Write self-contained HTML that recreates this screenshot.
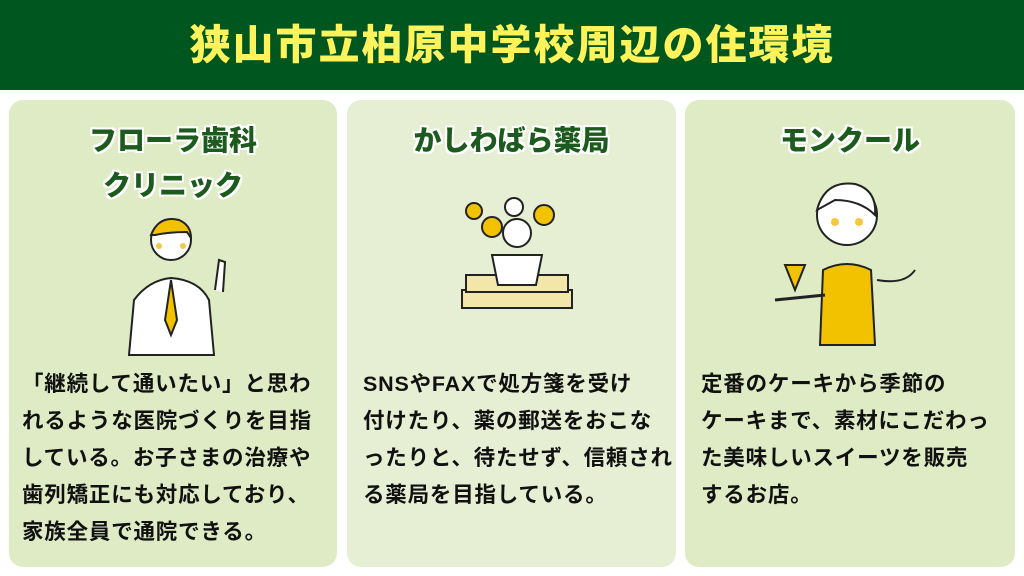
<!DOCTYPE html>
<html><head><meta charset="utf-8"><style>
body{margin:0;width:1024px;height:576px;background:#fff;position:relative;overflow:hidden;font-family:"Liberation Sans","Noto Sans CJK JP",sans-serif}
.hd{position:absolute;left:0;top:0;width:1024px;height:90px;background:#00561f;color:#fff35c;font-weight:900;font-size:41px;text-align:center;line-height:90px;letter-spacing:2px}
.p{position:absolute;top:100px;height:467px;border-radius:14px;background:#dfebc5}
.t{position:absolute;left:0;right:0;text-align:center;color:#1d5a1d;font-weight:900;font-size:28px;line-height:45px;text-shadow:2px 0 #fff,-2px 0 #fff,0 2px #fff,0 -2px #fff,2px 2px #fff,-2px -2px #fff,2px -2px #fff,-2px 2px #fff}
.b{position:absolute;left:13px;right:0;top:266px;font-size:21.5px;line-height:37px;color:#111;font-weight:700;letter-spacing:0.8px;white-space:nowrap}
</style></head><body>
<div class="hd">狭山市立柏原中学校周辺の住環境</div>
<div class="p" style="left:9px;width:328px">
<div class="t" style="top:18px">フローラ歯科<br>クリニック</div>
<svg style="position:absolute;left:110px;top:110px" width="130" height="150"><circle cx="52" cy="30" r="20" fill="#fff" stroke="#222" stroke-width="2"/><path d="M32 25 Q40 5 60 10 Q72 15 72 28 L68 22 Q50 22 36 25Z" fill="#f2c200" stroke="#222" stroke-width="2"/><path d="M10 145 L15 90 Q30 70 52 68 Q80 70 90 90 L95 145Z" fill="#fff" stroke="#222" stroke-width="2"/><path d="M52 70 L46 110 L52 125 L58 110Z" fill="#f2c200" stroke="#222" stroke-width="2"/><path d="M96 80 L100 50 L106 52 L104 82" fill="#fff" stroke="#222" stroke-width="2"/><circle cx="40" cy="36" r="3" fill="#f5c842"/><circle cx="64" cy="36" r="3" fill="#f5c842"/></svg>
<div class="b">「継続して通いたい」と思わ<br>れるような医院づくりを目指<br>している。お子さまの治療や<br>歯列矯正にも対応しており、<br>家族全員で通院できる。</div>
</div>
<div class="p" style="left:347px;width:329px;background:#e6efd3">
<div class="t" style="top:18px">かしわばら薬局</div>
<svg style="position:absolute;left:105px;top:85px" width="130" height="150"><rect x="10" y="105" width="110" height="18" fill="#f2e6a8" stroke="#222" stroke-width="2"/><rect x="14" y="90" width="102" height="17" fill="#f2e6a8" stroke="#222" stroke-width="2"/><path d="M40 70 L90 70 L84 100 L46 100Z" fill="#fff" stroke="#222" stroke-width="2"/><circle cx="65" cy="48" r="14" fill="#fff" stroke="#222" stroke-width="2"/><circle cx="40" cy="42" r="10" fill="#f2c200" stroke="#222" stroke-width="2"/><circle cx="92" cy="30" r="10" fill="#f2c200" stroke="#222" stroke-width="2"/><circle cx="22" cy="26" r="8" fill="#f2c200" stroke="#222" stroke-width="2"/><circle cx="62" cy="22" r="9" fill="#fff" stroke="#222" stroke-width="2"/></svg>
<div class="b" style="left:16px">SNSやFAXで処方箋を受け<br>付けたり、薬の郵送をおこな<br>ったりと、待たせず、信頼され<br>る薬局を目指している。</div>
</div>
<div class="p" style="left:685px;width:330px">
<div class="t" style="top:18px">モンクール</div>
<svg style="position:absolute;left:80px;top:70px" width="170" height="180"><circle cx="82" cy="45" r="30" fill="#fff" stroke="#222" stroke-width="2"/><path d="M52 40 Q60 10 90 14 Q112 20 110 45 Q95 30 70 30Z" fill="#fff" stroke="#222" stroke-width="2"/><path d="M55 175 L58 100 Q82 88 106 100 L110 175Z" fill="#f2c200" stroke="#222" stroke-width="2"/><path d="M10 130 L60 125" stroke="#222" stroke-width="3"/><path d="M20 95 L40 95 L30 120Z" fill="#f2c200" stroke="#222" stroke-width="2"/><path d="M112 110 Q140 115 150 100" fill="none" stroke="#222" stroke-width="2"/><circle cx="70" cy="52" r="4" fill="#f5c842"/><circle cx="94" cy="52" r="4" fill="#f5c842"/></svg>
<div class="b" style="left:16px">定番のケーキから季節の<br>ケーキまで、素材にこだわっ<br>た美味しいスイーツを販売<br>するお店。</div>
</div>
</body></html>
